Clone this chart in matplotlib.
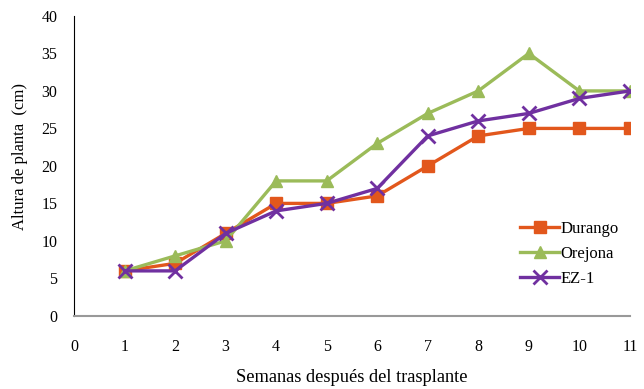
import matplotlib
matplotlib.use("Agg")
import matplotlib.pyplot as plt

weeks = [1, 2, 3, 4, 5, 6, 7, 8, 9, 10, 11]
durango = [6, 7, 11, 15, 15, 16, 20, 24, 25, 25, 25]
orejona = [6, 8, 10, 18, 18, 23, 27, 30, 35, 30, 30]
ez1 = [6, 6, 11, 14, 15, 17, 24, 26, 27, 29, 30]

plt.rcParams['font.family'] = ['Liberation Serif', 'DejaVu Serif']

fig = plt.figure(figsize=(6.44, 3.89), dpi=100)
ax = fig.add_axes([0.115, 0.188, 0.863, 0.771])

ax.plot(weeks, durango, "-s", color="#E2571C", lw=2.4, ms=8, label="Durango")
ax.plot(weeks, orejona, "-^", color="#9BBB59", lw=2.4, ms=9, label="Orejona")
ax.plot(weeks, ez1, "-x", color="#7030A0", lw=2.4, ms=10, mew=2, label="EZ-1")

ax.set_xlim(0, 11)
ax.set_ylim(0, 40)
ax.set_xticks(range(0, 12))
ax.set_yticks(range(0, 41, 5))
ax.tick_params(length=0, labelsize=11.5)
ax.tick_params(axis="y", pad=12)
ax.tick_params(axis="x", pad=16.5)

ax.spines['top'].set_visible(False)
ax.spines['right'].set_visible(False)
ax.spines['left'].set_color("black")
ax.spines['bottom'].set_color("#999999")
ax.spines['bottom'].set_linewidth(1.5)

ax.set_ylabel("Altura de planta  (cm)", fontsize=12)
ax.yaxis.set_label_coords(-0.083, 0.533)
ax.set_xlabel("Semanas después del trasplante", fontsize=13.2, labelpad=10)

ax.legend(loc="center right", bbox_to_anchor=(1.007, 0.207), frameon=False,
          fontsize=12, handlelength=2.3, handletextpad=0.1, labelspacing=0.55)

fig.savefig("out.png", dpi=100)
